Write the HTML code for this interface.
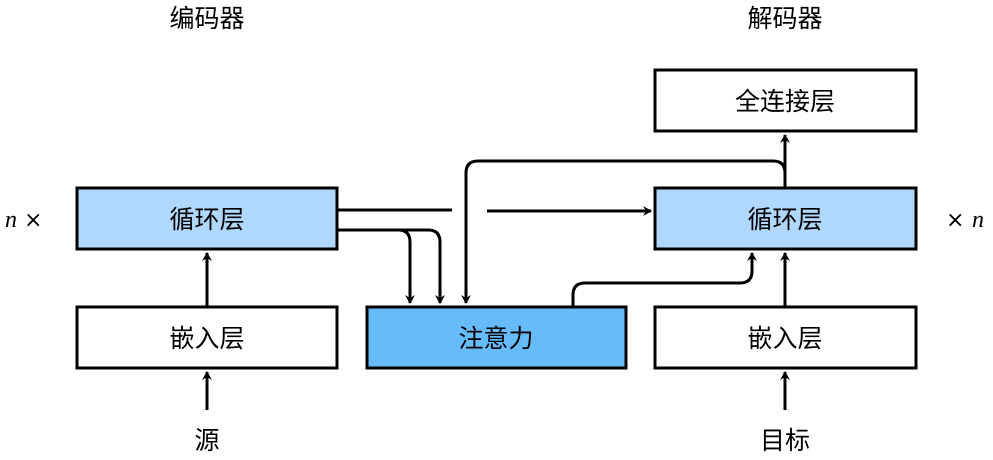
<!DOCTYPE html>
<html><head><meta charset="utf-8"><style>
html,body{margin:0;padding:0;background:#fff;}
svg{display:block;}
text{font-family:"Liberation Sans","Noto Sans CJK SC",sans-serif;font-size:25px;fill:#000;}
</style></head><body>
<svg width="993" height="460" viewBox="0 0 993 460" xmlns="http://www.w3.org/2000/svg">
<defs>
<marker id="a" markerWidth="10" markerHeight="10" refX="8" refY="5" orient="auto" markerUnits="userSpaceOnUse">
<path d="M0,0 L9,5 L0,10 L3,5 Z" fill="#000"/>
</marker>
</defs>
<g stroke="#000" stroke-width="3" fill="none">
<rect x="77" y="188" width="260" height="61" fill="#b0d8fd"/>
<rect x="77" y="307" width="260" height="61" fill="#fff"/>
<rect x="367" y="307" width="259" height="61" fill="#66bcfb"/>
<rect x="655" y="70" width="261" height="61" fill="#fff"/>
<rect x="655" y="188" width="261" height="61" fill="#b0d8fd"/>
<rect x="655" y="307" width="261" height="61" fill="#fff"/>
<!-- arrows -->
<line x1="207" y1="410" x2="207" y2="372" marker-end="url(#a)"/>
<line x1="207" y1="307" x2="207" y2="253" marker-end="url(#a)"/>
<line x1="785" y1="410" x2="785" y2="372" marker-end="url(#a)"/>
<line x1="785" y1="307" x2="785" y2="253" marker-end="url(#a)"/>
<line x1="785" y1="188" x2="785" y2="135" marker-end="url(#a)"/>
<line x1="337" y1="210" x2="452" y2="210"/>
<line x1="487" y1="211" x2="651" y2="211" marker-end="url(#a)"/>
<path d="M337,230 H398 Q410,230 410,242 V303" marker-end="url(#a)"/>
<path d="M337,230 H428 Q440,230 440,242 V303" marker-end="url(#a)"/>
<path d="M785,188 V173 Q785,161 773,161 H478 Q466,161 466,173 V303" marker-end="url(#a)"/>
<path d="M573,307 V295 Q573,283 585,283 H740 Q752,283 752,271 V253" marker-end="url(#a)"/>
</g>
<text x="207" y="27" text-anchor="middle">编码器</text>
<text x="785" y="27" text-anchor="middle">解码器</text>
<text x="207" y="228" text-anchor="middle">循环层</text>
<text x="207" y="347" text-anchor="middle">嵌入层</text>
<text x="496" y="347" text-anchor="middle">注意力</text>
<text x="785" y="110" text-anchor="middle">全连接层</text>
<text x="785" y="228" text-anchor="middle">循环层</text>
<text x="785" y="347" text-anchor="middle">嵌入层</text>
<text x="207" y="449" text-anchor="middle">源</text>
<text x="785" y="449" text-anchor="middle">目标</text>
<text x="5" y="227" style="font-family:'Liberation Serif',serif;font-style:italic;font-size:24px">n</text>
<text x="24" y="227" style="font-family:'DejaVu Sans',sans-serif;font-size:22px">×</text>
<text x="946" y="227" style="font-family:'DejaVu Sans',sans-serif;font-size:22px">×</text>
<text x="972" y="227" style="font-family:'Liberation Serif',serif;font-style:italic;font-size:24px">n</text>
</svg>
</body></html>
